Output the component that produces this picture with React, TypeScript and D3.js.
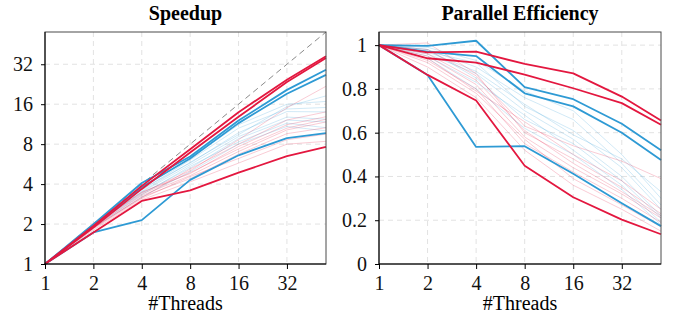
import { useEffect, useRef } from "react";
import * as d3 from "d3";

// thread counts measured
const threads = [1, 2, 4, 8, 16, 32, 56];

// parallel efficiency per run (highlighted runs)
const redTop = [1, 0.967, 0.97, 0.914, 0.871, 0.765, 0.656];
const redMid = [1, 0.94, 0.92, 0.865, 0.803, 0.735, 0.636];
const redLow = [1, 0.864, 0.747, 0.449, 0.305, 0.203, 0.136];
const blueTop = [1, 0.997, 1.02, 0.808, 0.753, 0.641, 0.52];
const blueMid = [1, 0.97, 0.95, 0.78, 0.72, 0.6, 0.475];
const blueLow = [1, 0.864, 0.535, 0.538, 0.412, 0.278, 0.173];

// background runs
const fadedBlue = [
    [1, 0.99, 0.93, 0.79, 0.7, 0.5, 0.3],
    [1, 0.98, 0.9, 0.76, 0.66, 0.46, 0.27],
    [1, 0.97, 0.92, 0.72, 0.61, 0.44, 0.25],
    [1, 0.96, 0.87, 0.7, 0.57, 0.4, 0.22],
    [1, 0.98, 0.85, 0.66, 0.55, 0.38, 0.21],
    [1, 0.95, 0.83, 0.68, 0.52, 0.36, 0.19],
    [1, 0.97, 0.88, 0.73, 0.59, 0.48, 0.33],
    [1, 0.94, 0.8, 0.62, 0.5, 0.34, 0.18],
];
const fadedRed = [
    [1, 0.98, 0.86, 0.63, 0.54, 0.47, 0.39],
    [1, 1.01, 0.87, 0.6, 0.48, 0.35, 0.23],
    [1, 0.95, 0.82, 0.58, 0.44, 0.32, 0.21],
    [1, 0.93, 0.8, 0.55, 0.42, 0.3, 0.19],
    [1, 0.92, 0.78, 0.57, 0.39, 0.27, 0.17],
    [1, 0.96, 0.84, 0.61, 0.46, 0.33, 0.22],
    [1, 0.9, 0.76, 0.52, 0.36, 0.25, 0.15],
    [1, 0.94, 0.79, 0.65, 0.5, 0.38, 0.25],
];

const xTicks = [1, 2, 4, 8, 16, 32];
const speedupTicks = [1, 2, 4, 8, 16, 32];
const effTicks = [0, 0.2, 0.4, 0.6, 0.8, 1];

const RED = "#e3173f";
const BLUE = "#2e9ad4";
const FONT = "'Liberation Serif', 'DejaVu Serif', serif";

type Run = { eff: number[]; color: string; faded: boolean };

const runs: Run[] = [
    ...fadedBlue.map((eff) => ({ eff, color: BLUE, faded: true })),
    ...fadedRed.map((eff) => ({ eff, color: RED, faded: true })),
    { eff: blueLow, color: BLUE, faded: false },
    { eff: redLow, color: RED, faded: false },
    { eff: blueMid, color: BLUE, faded: false },
    { eff: blueTop, color: BLUE, faded: false },
    { eff: redMid, color: RED, faded: false },
    { eff: redTop, color: RED, faded: false },
];

export default function App() {
    const svgRef = useRef<SVGSVGElement>(null);

    useEffect(() => {
        const svg = d3.select(svgRef.current);
        svg.selectAll("*").remove();

        const top = 32;
        const bottom = 264;

        const panel = (
            left: number,
            right: number,
            title: string,
            y: any,
            yTicks: number[],
            value: (e: number, t: number) => number,
            ideal: boolean
        ) => {
            const x = d3.scaleLog().base(2).domain([1, 56]).range([left, right]);
            const g = svg.append("g");

            // grid
            g.selectAll(".gx")
                .data(xTicks.slice(1))
                .enter()
                .append("line")
                .attr("x1", (d) => x(d))
                .attr("x2", (d) => x(d))
                .attr("y1", top)
                .attr("y2", bottom)
                .attr("stroke", "#e2e2e2")
                .attr("stroke-dasharray", "5,4");
            g.selectAll(".gy")
                .data(yTicks.slice(1))
                .enter()
                .append("line")
                .attr("x1", left)
                .attr("x2", right)
                .attr("y1", (d) => y(d))
                .attr("y2", (d) => y(d))
                .attr("stroke", "#e2e2e2")
                .attr("stroke-dasharray", "5,4");

            if (ideal) {
                g.append("line")
                    .attr("x1", x(1))
                    .attr("y1", y(1))
                    .attr("x2", x(56))
                    .attr("y2", y(56))
                    .attr("stroke", "#8a8a8a")
                    .attr("stroke-dasharray", "6,4");
            }

            const line = d3
                .line<number>()
                .x((_, i) => x(threads[i]))
                .y((e, i) => y(value(e, threads[i])));

            g.selectAll(".run")
                .data(runs)
                .enter()
                .append("path")
                .attr("d", (r) => line(r.eff))
                .attr("fill", "none")
                .attr("stroke", (r) => r.color)
                .attr("stroke-opacity", (r) => (r.faded ? 0.22 : 1))
                .attr("stroke-width", (r) => (r.faded ? 1 : 1.8))
                .attr("stroke-linejoin", "round");

            // frame
            g.append("rect")
                .attr("x", left)
                .attr("y", top)
                .attr("width", right - left)
                .attr("height", bottom - top)
                .attr("fill", "none")
                .attr("stroke", "#4a4a4a");

            const xAxis = g
                .append("g")
                .attr("transform", `translate(0,${bottom})`)
                .call(
                    d3
                        .axisBottom(x)
                        .tickValues(xTicks)
                        .tickFormat((d) => String(d))
                        .tickSize(5)
                        .tickPadding(5)
                );
            xAxis.select(".domain").attr("d", `M${left},0H${right}`).attr("stroke", "#000");

            const yAxis = g
                .append("g")
                .attr("transform", `translate(${left},0)`)
                .call(
                    d3
                        .axisLeft(y)
                        .tickValues(yTicks)
                        .tickFormat((d) => String(d))
                        .tickSize(4)
                        .tickPadding(8)
                );
            yAxis.select(".domain").attr("d", `M0,${top}V${bottom}`).attr("stroke", "#000");

            // d3 axes put font-family on the group, so set it there too
            xAxis.attr("font-family", null).style("font-family", FONT);
            yAxis.attr("font-family", null).style("font-family", FONT);
            g.selectAll(".tick text")
                .style("font-family", FONT)
                .style("font-size", "20px")
                .attr("fill", "#111");
            xAxis.selectAll(".tick text").attr("dy", "0.8em");
            g.selectAll(".tick line").attr("stroke", "#000");

            g.append("text")
                .attr("x", (left + right) / 2)
                .attr("y", 20)
                .attr("text-anchor", "middle")
                .style("font-family", FONT)
                .style("font-weight", "bold")
                .style("font-size", "20px")
                .text(title);

            g.append("text")
                .attr("x", (left + right) / 2)
                .attr("y", 310)
                .attr("text-anchor", "middle")
                .style("font-family", FONT)
                .style("font-size", "20px")
                .text("#Threads");
        };

        const ySpeed = d3.scaleLog().base(2).domain([1, 56]).range([bottom, top]);
        panel(45, 326, "Speedup", ySpeed, speedupTicks, (e, t) => e * t, true);

        const yEff = d3.scaleLinear().domain([0, 1.06]).range([bottom, top]);
        panel(379, 661, "Parallel Efficiency", yEff, effTicks, (e) => e, false);
    }, []);

    return (
        <svg
            ref={svgRef}
            width={673}
            height={320}
            style={{ position: "absolute", left: 0, top: 0, background: "#fff" }}
        />
    );
}
